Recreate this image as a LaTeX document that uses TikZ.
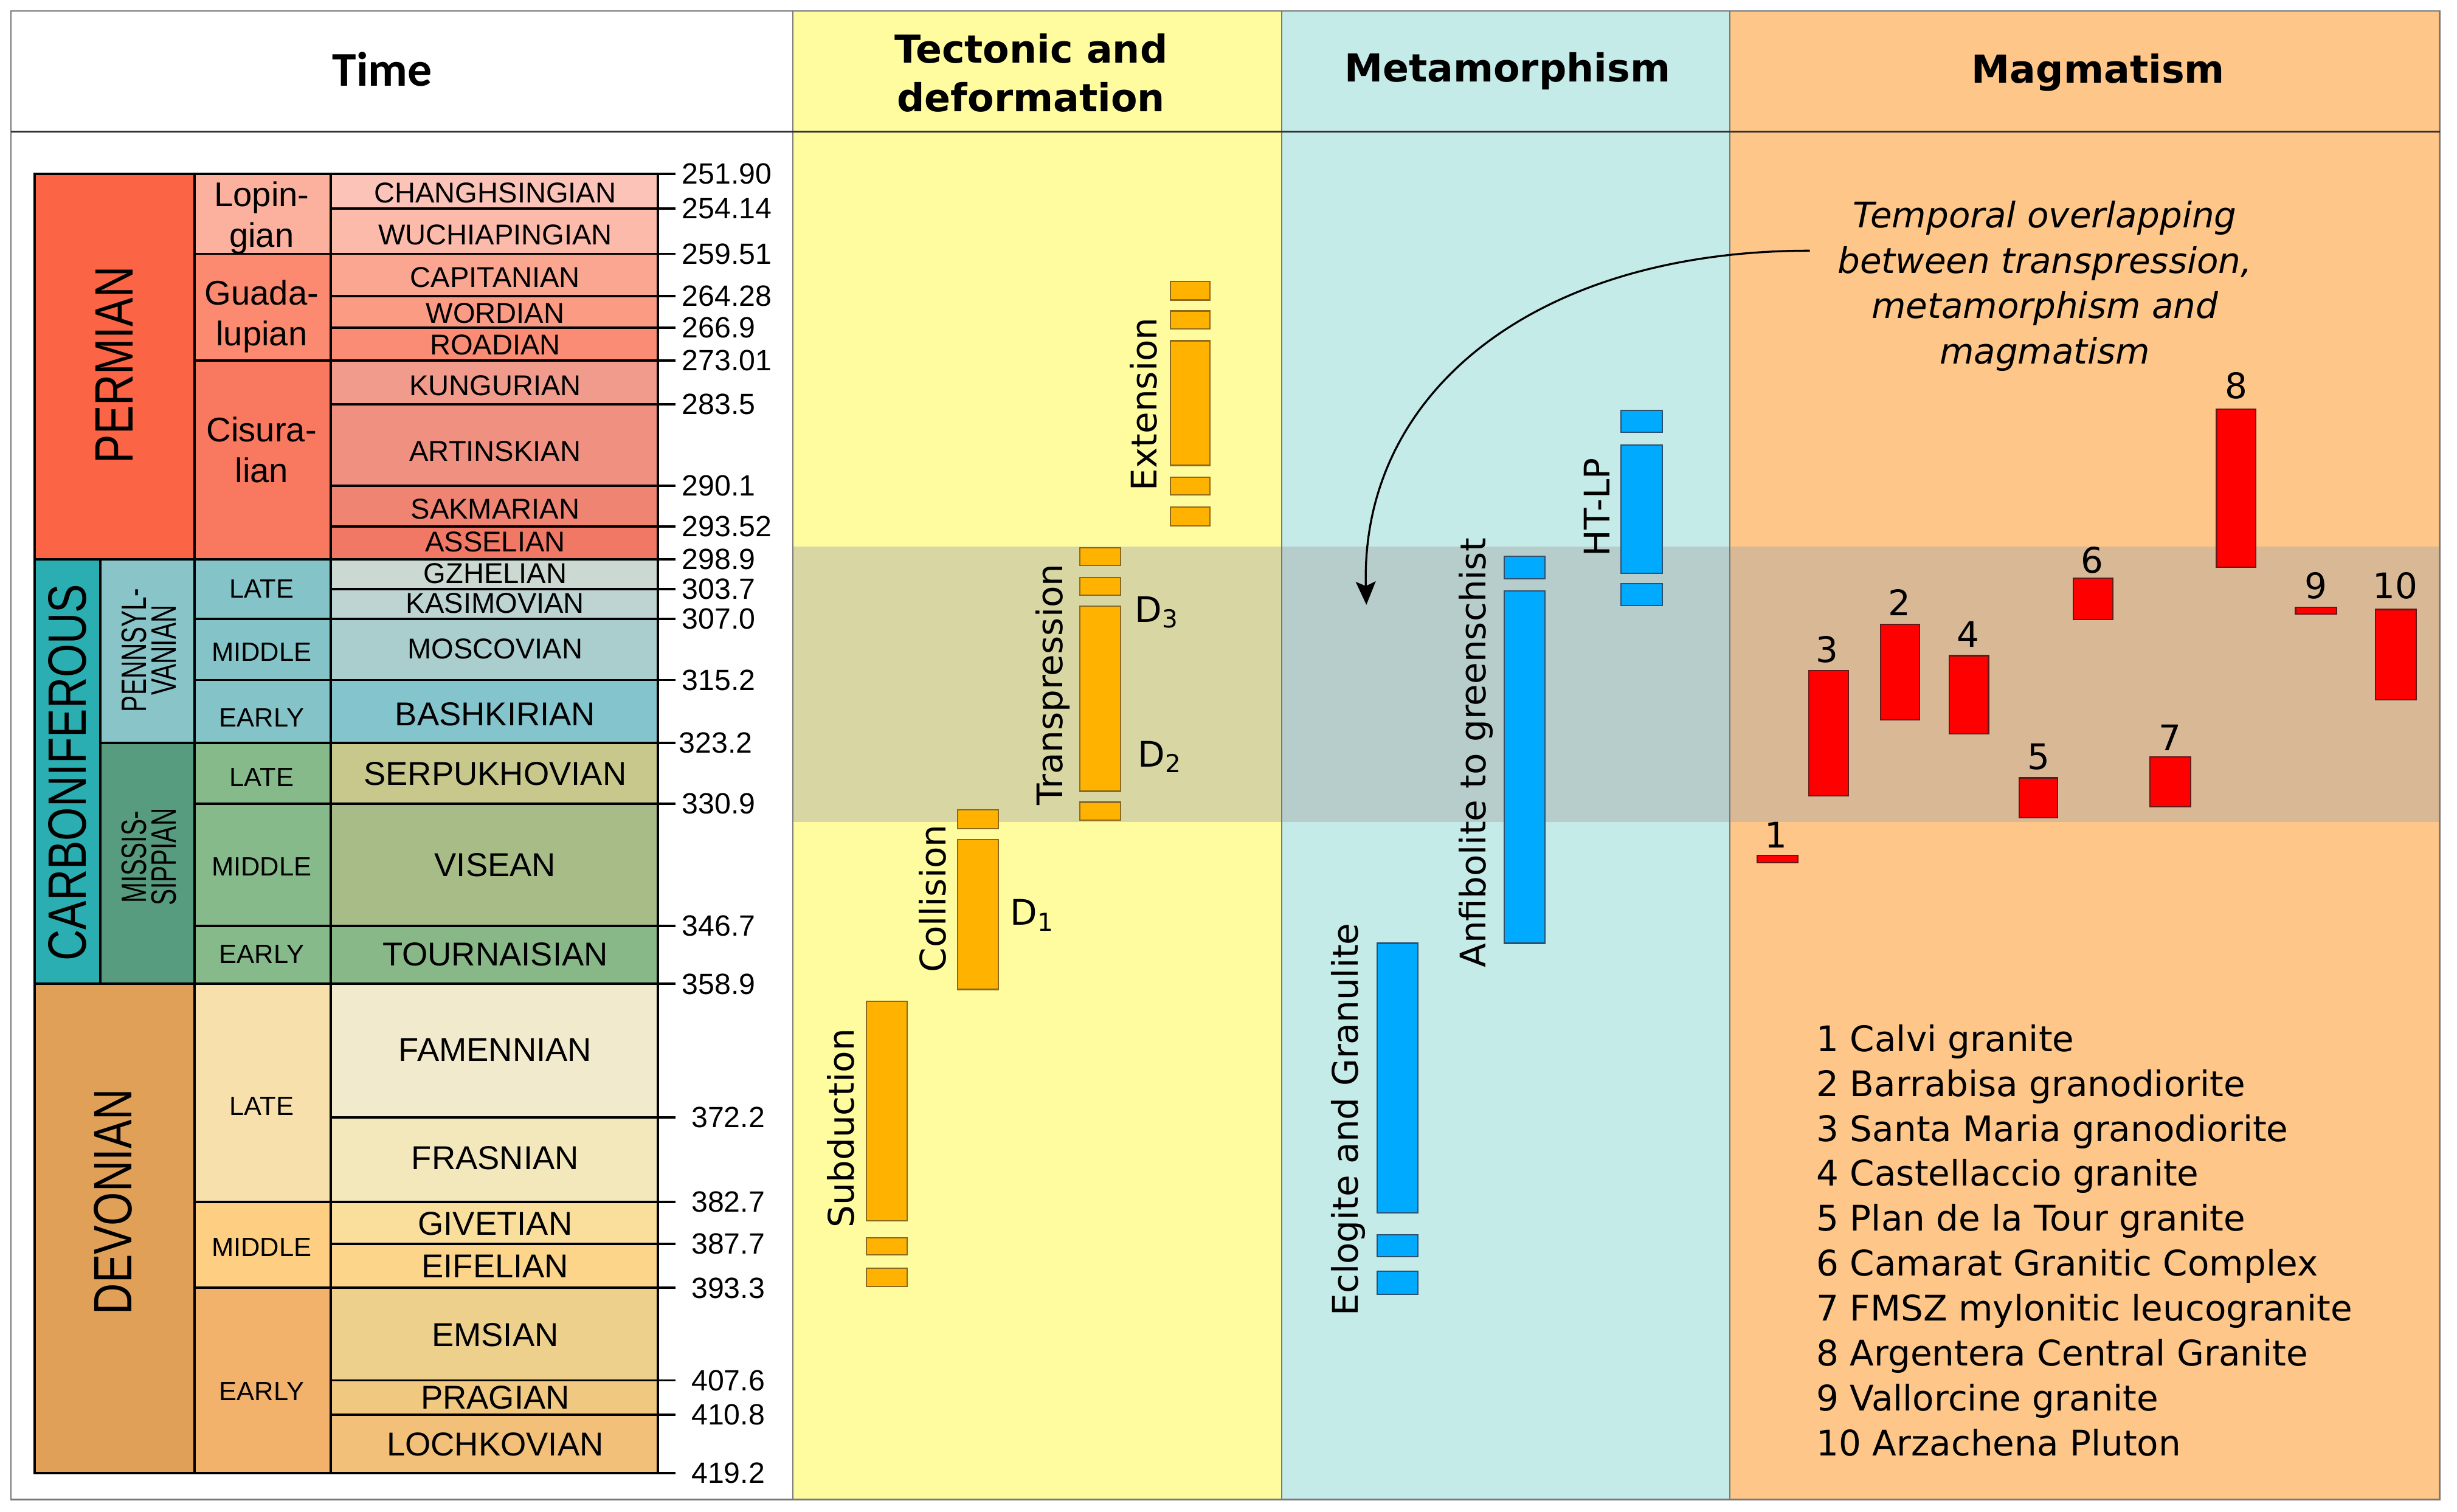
\documentclass[tikz,border=0pt]{standalone}
\usepackage{fontspec}
\setmainfont{DejaVu Sans}
\newfontfamily\arialfont{Liberation Sans}
\newfontfamily\condfont[FakeStretch=0.8]{Liberation Sans}
\newfontfamily\narrowfont[FakeStretch=0.7]{Liberation Sans}
\newfontfamily\timefont{Carlito}
\usetikzlibrary{arrows.meta}

\definecolor{tecbg}{RGB}{255,252,160}
\definecolor{metbg}{RGB}{196,235,232}
\definecolor{magbg}{RGB}{254,198,136}
\definecolor{bandgray}{RGB}{168,168,167}
\definecolor{tecorange}{RGB}{255,179,0}
\definecolor{tecedge}{RGB}{140,105,30}
\definecolor{metblue}{RGB}{0,170,255}
\definecolor{metedge}{RGB}{45,80,110}
\definecolor{magred}{RGB}{255,0,0}
\definecolor{magedge}{RGB}{100,25,25}
\definecolor{gridgray}{RGB}{120,120,120}

\definecolor{permian}{RGB}{252,100,70}
\definecolor{carbon}{RGB}{42,174,178}
\definecolor{pennsyl}{RGB}{136,196,200}
\definecolor{mississ}{RGB}{88,156,128}
\definecolor{devon}{RGB}{224,160,88}

\definecolor{lopin}{RGB}{252,176,158}
\definecolor{guada}{RGB}{251,138,112}
\definecolor{cisur}{RGB}{248,120,96}
\definecolor{pennep}{RGB}{132,196,200}
\definecolor{missep}{RGB}{134,186,138}
\definecolor{devlate}{RGB}{248,224,172}
\definecolor{devmid}{RGB}{254,206,130}
\definecolor{devearly}{RGB}{242,178,108}

\definecolor{chang}{RGB}{252,196,184}
\definecolor{wuchi}{RGB}{252,186,170}
\definecolor{capit}{RGB}{251,166,145}
\definecolor{wordi}{RGB}{251,155,132}
\definecolor{roadi}{RGB}{250,140,118}
\definecolor{kungu}{RGB}{240,155,140}
\definecolor{artin}{RGB}{240,144,128}
\definecolor{sakma}{RGB}{240,132,114}
\definecolor{assel}{RGB}{240,120,100}
\definecolor{gzhel}{RGB}{204,216,210}
\definecolor{kasim}{RGB}{190,212,210}
\definecolor{mosco}{RGB}{170,206,206}
\definecolor{bashk}{RGB}{132,196,204}
\definecolor{serpu}{RGB}{200,200,140}
\definecolor{visea}{RGB}{168,188,136}
\definecolor{tourn}{RGB}{136,184,136}
\definecolor{famen}{RGB}{242,234,204}
\definecolor{frasn}{RGB}{242,232,188}
\definecolor{givet}{RGB}{250,222,156}
\definecolor{eifel}{RGB}{252,212,138}
\definecolor{emsia}{RGB}{236,208,140}
\definecolor{pragi}{RGB}{240,200,128}
\definecolor{lochk}{RGB}{242,192,120}

\begin{document}
\begin{tikzpicture}[x=0.025cm,y=-0.025cm,
            tscale/.style={draw=black,line width=1.1pt},
            gridline/.style={draw=gridgray,line width=0.7pt},
            tecbar/.style={fill=tecorange,draw=tecedge,line width=0.6pt},
            metbar/.style={fill=metblue,draw=metedge,line width=0.6pt},
            magbar/.style={fill=magred,draw=magedge,line width=0.6pt},
            hdr/.style={font=\bfseries\fontsize{17.5}{22}\selectfont,align=center,inner sep=0pt},
            lbl/.style={font=\fontsize{16}{16}\selectfont,inner sep=0pt},
            vlbl/.style={lbl,rotate=90},
            epoch/.style={font=\arialfont\fontsize{12}{12}\selectfont,inner sep=0pt},
            epochname/.style={font=\arialfont\fontsize{15.5}{18.5}\selectfont,align=center,inner sep=0pt},
            period/.style={font=\condfont\fontsize{24.5}{24.5}\selectfont,rotate=90,inner sep=0pt},
            subperiod/.style={font=\narrowfont\fontsize{16}{13.5}\selectfont,rotate=90,align=center,inner sep=0pt}]
            \useasboundingbox (0,0) rectangle (1568,965);
            \fill[white] (0,0) rectangle (1568,965);
            \fill[tecbg] (506,7) rectangle (818,957);
            \fill[metbg] (818,7) rectangle (1104,957);
            \fill[magbg] (1104,7) rectangle (1557,957);
            \fill[bandgray,opacity=0.44] (506,349) rectangle (1557,524.5);
            \draw[gridline] (7,7) rectangle (1557,957);
            \draw[gridline] (506,7) -- (506,957);
            \draw[gridline] (818,7) -- (818,957);
            \draw[gridline] (1104,7) -- (1104,957);
            \draw[draw=black!80,line width=1pt] (7,84) -- (1557,84);

            \node (time) at (244,55) [anchor=base,inner sep=0pt,font=\timefont\bfseries\fontsize{22}{22}\selectfont] {Time};
            \node (tectonic) at (658,21.3) [hdr,anchor=north] {Tectonic and\\deformation};
            \node (metamorphism) at (962,52) [hdr,anchor=base] {Metamorphism};
            \node (magmatism) at (1339,53) [hdr,anchor=base] {Magmatism};

            \draw[tscale,fill=permian] (22,111) rectangle (124,357);
            \draw[tscale,fill=carbon] (22,357) rectangle (64,628);
            \draw[tscale,fill=pennsyl] (64,357) rectangle (124,474);
            \draw[tscale,fill=mississ] (64,474) rectangle (124,628);
            \draw[tscale,fill=devon] (22,628) rectangle (124,940);
            \foreach \ya/\yb/\col in {111/162/lopin,162/230/guada,230/357/cisur,357/395/pennep,395/434/pennep,434/474/pennep,474/513/missep,513/591/missep,591/628/missep,628/767/devlate,767/822/devmid,822/940/devearly}
                \draw[tscale,fill=\col] (124,\ya) rectangle (211,\yb);
            \foreach \ya/\yb/\yl/\col/\txt/\fs [count=\i] in {111/133/123/chang/CHANGHSINGIAN/13,133/162/150/wuchi/WUCHIAPINGIAN/13,162/189/177/capit/CAPITANIAN/13,189/209/200/wordi/WORDIAN/13,209/230/220/roadi/ROADIAN/13,230/258/246/kungu/KUNGURIAN/13,258/310/288/artin/ARTINSKIAN/13,310/336/325/sakma/SAKMARIAN/13,336/357/346/assel/ASSELIAN/13,357/376/366/gzhel/GZHELIAN/13,376/395/385/kasim/KASIMOVIAN/13,395/434/414/mosco/MOSCOVIAN/13,434/474/456/bashk/BASHKIRIAN/15,474/513/494/serpu/SERPUKHOVIAN/15,513/591/552/visea/VISEAN/15,591/628/609/tourn/TOURNAISIAN/15,628/713/670/famen/FAMENNIAN/15,713/767/739/frasn/FRASNIAN/15,767/794/781/givet/GIVETIAN/15,794/822/808/eifel/EIFELIAN/15,822/881/852/emsia/EMSIAN/15,881/903/892/pragi/PRAGIAN/15,903/940/922/lochk/LOCHKOVIAN/15}
            {
                \draw[tscale,fill=\col] (211,\ya) rectangle (420,\yb);
                \node (stage\i) at (316,\yl) [inner sep=0pt] {\arialfont\fontsize{\fs}{\fs}\selectfont\txt};
            }
            \foreach \ty/\tx/\age [count=\i] in {111/435/251.90,133/435/254.14,162/435/259.51,189/435/264.28,209/435/266.9,230/435/273.01,258/435/283.5,310/435/290.1,336/435/293.52,357/435/298.9,376/435/303.7,395/435/307.0,434/435/315.2,474/433/323.2,513/435/330.9,591/435/346.7,628/435/358.9,713/441/372.2,767/441/382.7,794/441/387.7,822/441/393.3,881/441/407.6,903/441/410.8,940/441/419.2}
            {
                \draw[line width=1.1pt] (420,\ty) -- (431,\ty);
                \node (age\i) at (\tx,\ty) [anchor=west,inner sep=0pt,font=\arialfont\fontsize{13.3}{13.3}\selectfont] {\age};
            }

            \node (permianlab) at (73,233) [period] {PERMIAN};
            \node (carbonlab) at (43,493) [period] {CARBONIFEROUS};
            \node (devonlab) at (72,767) [period] {DEVONIAN};
            \node (pennlab) at (95,415) [subperiod] {PENNSYL-\\VANIAN};
            \node (misslab) at (95,547) [subperiod] {MISSIS-\\SIPPIAN};
            \node (lopinlab) at (167,139) [epochname] {Lopin-\\gian};
            \node (guadalab) at (167,202) [epochname] {Guada-\\lupian};
            \node (cisurlab) at (167,287) [epochname] {Cisura-\\lian};
            \foreach \ey/\etxt [count=\i] in {376/LATE,416/MIDDLE,458/EARLY,496/LATE,553/MIDDLE,609/EARLY,706/LATE,796/MIDDLE,888/EARLY}
                \node (epoch\i) at (167,\ey) [epoch] {\etxt};

            \foreach \xa/\ya/\xb/\yb in {747/179.5/772/191.5,747/198.5/772/210,747/217.5/772/297,747/304.5/772/316,747/323.5/772/335.5,689/349.5/715/361,689/368.5/715/380,689/387/715/505,689/512/715/523.5,611/517/637/529,611/536/637/631.5,553/639/579/779,553/790/579/801,553/809.5/579/821}
                \draw[tecbar] (\xa,\ya) rectangle (\xb,\yb);
            \foreach \xa/\ya/\xb/\yb in {879/602/905/774,879/788/905/802,879/811.5/905/826,960/355/986/369.5,960/377/986/602,1034.5/262/1061/276,1034.5/284/1061/366,1034.5/372.5/1061/386.5}
                \draw[metbar] (\xa,\ya) rectangle (\xb,\yb);
            \foreach \xa/\ya/\xb/\yb in {1121.5/546/1147.5/550.5,1154.5/428/1179.5/508,1200/398.5/1225/459.5,1244/418.5/1269/468.5,1288.5/496.5/1313/522,1323/369/1348.5/395.5,1372/483/1398/515,1414.5/261/1439.5/362,1465/387.5/1491/392,1516/389/1542/446.5}
                \draw[magbar] (\xa,\ya) rectangle (\xb,\yb);

            \node (extension) at (730,258) [vlbl] {Extension};
            \node (transpression) at (672,437) [vlbl] {Transpression};
            \node (collision) at (595,573.5) [vlbl] {Collision};
            \node (subduction) at (536.5,720) [vlbl] {Subduction};
            \node (dthree) at (724,397) [lbl,anchor=base west] {D\textsubscript{3}};
            \node (dtwo) at (726,489.5) [lbl,anchor=base west] {D\textsubscript{2}};
            \node (done) at (644.5,590.5) [lbl,anchor=base west] {D\textsubscript{1}};
            \node (eclogite) at (860.5,714.5) [vlbl] {Eclogite and Granulite};
            \node (anfibolite) at (942,480.5) [vlbl] {Anfibolite to greenschist};
            \node (htlp) at (1019,323.7) [vlbl] {HT-LP};

            \foreach \nx/\ny/\num in {1133.5/533/1,1212/384.5/2,1166/414.5/3,1256/405/4,1301/483/5,1335/357.5/6,1385/471/7,1427/246/8,1478/374/9,1528.5/374/10}
                \node (num\num) at (\nx,\ny) [lbl] {\num};

            \node (overlap) at (1305,128) [anchor=north,align=center,inner sep=0pt,font=\itshape\fontsize{16}{20.6}\selectfont] {Temporal overlapping\\between transpression,\\metamorphism and\\magmatism};
            \coordinate (ovstart) at (1155,160);
            \coordinate (bandtip) at (872,386);
            \draw[line width=0.9pt,-{Stealth[length=10.5pt,width=9pt,inset=2pt]}] (ovstart) .. controls (980,160) and (868,250) .. (bandtip);

            \foreach \name [count=\i] in {Calvi granite,Barrabisa granodiorite,Santa Maria granodiorite,Castellaccio granite,Plan de la Tour granite,Camarat Granitic Complex,FMSZ mylonitic leucogranite,Argentera Central Granite,Vallorcine granite,Arzachena Pluton}
                \node (leg\i) at (1159,{671+28.67*(\i-1)}) [lbl,anchor=base west] {\i\ \name};
\end{tikzpicture}
\end{document}
